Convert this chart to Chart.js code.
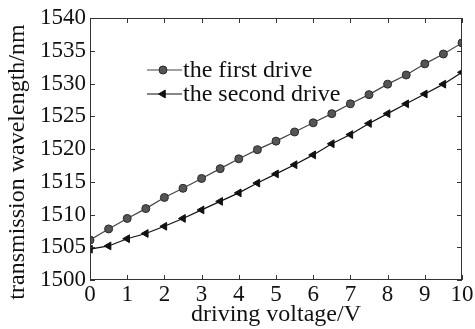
<!DOCTYPE html>
<html><head><meta charset="utf-8">
<script src="https://cdn.jsdelivr.net/npm/chart.js@4/dist/chart.umd.min.js"></script>
<style>html,body{margin:0;padding:0;background:#fff;}#wrap{width:475px;height:329px;}</style>
</head><body><div id="wrap"><canvas id="c" width="475" height="329"></canvas></div>
<script>
const voltages = [0,0.5,1,1.5,2,2.5,3,3.5,4,4.5,5,5.5,6,6.5,7,7.5,8,8.5,9,9.5,10];
const firstDrive = [1506.1,1507.8,1509.4,1510.9,1512.6,1514.0,1515.5,1517.0,1518.5,1519.9,1521.2,1522.6,1524.0,1525.4,1526.9,1528.3,1529.9,1531.3,1533.0,1534.5,1536.2];
const secondDrive = [1504.7,1505.2,1506.3,1507.1,1508.2,1509.4,1510.7,1512.0,1513.3,1514.8,1516.2,1517.6,1519.1,1520.8,1522.2,1523.9,1525.4,1526.9,1528.4,1529.9,1531.7];
const seriesNames = ['the first drive','the second drive'];
const xTitle = 'driving voltage/V';
const yTitle = 'transmission wavelength/nm';

const FONT = 'Liberation Serif';
const pts = (ys) => voltages.map((v,i)=>({x:v,y:ys[i]}));

const frame = {
  id:'frame',
  afterDraw(chart){
    const {ctx, chartArea:a, scales:{x,y}} = chart;
    ctx.save();
    ctx.strokeStyle='#333'; ctx.lineWidth=1;
    ctx.strokeRect(a.left+0.5, a.top+0.5, a.right-a.left-1, a.bottom-a.top-1);
    ctx.beginPath();
    x.ticks.forEach(t=>{const px=Math.round(x.getPixelForValue(t.value))+0.5;
      ctx.moveTo(px,a.bottom); ctx.lineTo(px,a.bottom-5);
      ctx.moveTo(px,a.top); ctx.lineTo(px,a.top+5);});
    y.ticks.forEach(t=>{const py=Math.round(y.getPixelForValue(t.value))+0.5;
      ctx.moveTo(a.left,py); ctx.lineTo(a.left+5,py);
      ctx.moveTo(a.right,py); ctx.lineTo(a.right-5,py);});
    ctx.stroke();
    // y title
    ctx.save();
    ctx.translate(18, (a.top+a.bottom)/2 + 13);
    ctx.rotate(-Math.PI/2);
    ctx.fillStyle='#111'; ctx.font='24px "'+FONT+'"'; ctx.textAlign='center'; ctx.textBaseline='middle';
    ctx.fillText(yTitle,0,0);
    ctx.restore();
    // legend
    const items = chart.data.datasets;
    const lx = a.left+57, ly = [a.top+52, a.top+76];
    items.forEach((ds,i)=>{
      ctx.strokeStyle=ds.borderColor; ctx.lineWidth=1.2;
      ctx.beginPath(); ctx.moveTo(lx,ly[i]); ctx.lineTo(lx+35,ly[i]); ctx.stroke();
      ctx.fillStyle=ds.pointBackgroundColor; ctx.strokeStyle=ds.pointBorderColor; ctx.lineWidth=1;
      Chart.helpers.drawPoint(ctx,{pointStyle:ds.pointStyle,rotation:ds.rotation||0,radius:ds.pointRadius,borderWidth:1},lx+16,ly[i]);
      ctx.fillStyle='#111'; ctx.font='24px "'+FONT+'"'; ctx.textBaseline='middle'; ctx.textAlign='left';
      ctx.fillText(ds.label, lx+36, ly[i]+1);
    });
    ctx.restore();
  }
};

new Chart(document.getElementById('c'),{
  type:'line',
  data:{datasets:[
    {label:seriesNames[0],data:pts(firstDrive),borderColor:'#444',borderWidth:1.2,pointStyle:'circle',pointRadius:4,
     pointBackgroundColor:'#555',pointBorderColor:'#2a2a2a',pointBorderWidth:1,tension:0},
    {label:seriesNames[1],data:pts(secondDrive),borderColor:'#111',borderWidth:1.2,pointStyle:'triangle',rotation:-90,pointRadius:4.5,
     pointBackgroundColor:'#111',pointBorderColor:'#111',pointBorderWidth:1,tension:0}
  ]},
  options:{
    responsive:false,animation:false,
    layout:{padding:{left:0,right:13,top:18,bottom:0}},
    plugins:{legend:{display:false},tooltip:{enabled:false}},
    scales:{
      x:{type:'linear',min:0,max:10,
        ticks:{stepSize:1,color:'#111',font:{family:FONT,size:23},padding:1,maxRotation:0,callback:v=>String(v)},
        grid:{display:false,drawTicks:false},border:{display:false},
        title:{display:true,text:xTitle,color:'#111',font:{family:FONT,size:24},padding:{top:-3,bottom:0}},
        afterFit(s){s.height=49;}},
      y:{type:'linear',min:1500,max:1540,
        ticks:{stepSize:5,color:'#111',font:{family:FONT,size:23},padding:4,callback:v=>String(v)},
        grid:{display:false,drawTicks:false},border:{display:false},
        title:{display:false},
        afterFit(s){s.width=90;}}
    }
  },
  plugins:[frame]
});
</script></body></html>
